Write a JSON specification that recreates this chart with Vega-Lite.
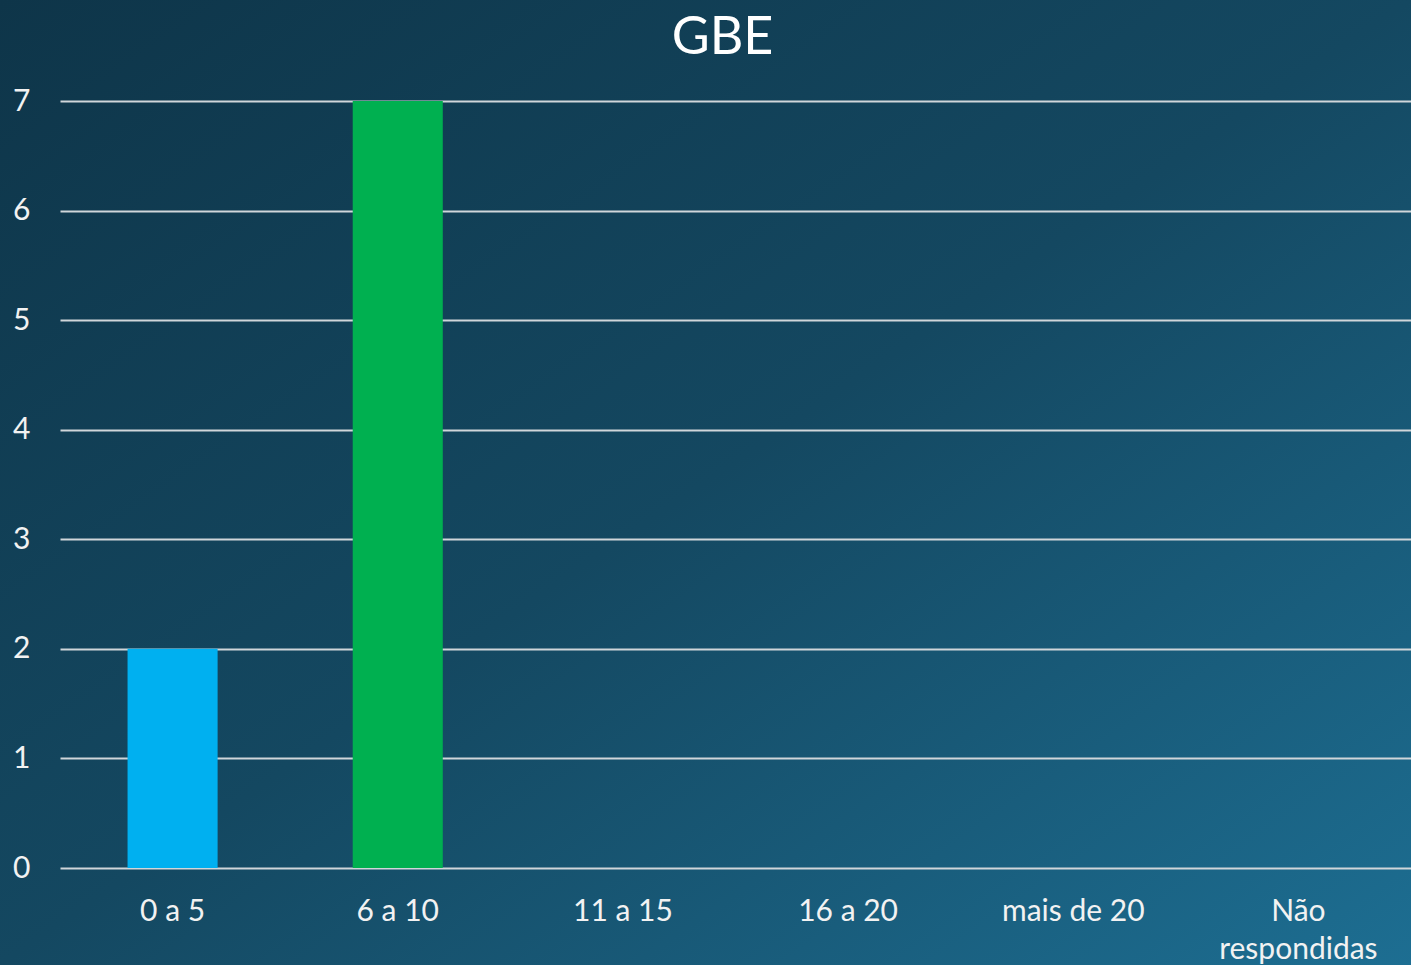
{
  "$schema": "https://vega.github.io/schema/vega-lite/v6.json",
  "width": 1411,
  "height": 965,
  "autosize": {"type": "none"},
  "padding": 0,
  "background": "#154a63",
  "view": {
    "stroke": null,
    "fill": {
      "gradient": "linear",
      "x1": 0, "y1": 0, "x2": 1, "y2": 1,
      "stops": [
        {"offset": 0, "color": "#0e3549"},
        {"offset": 0.5, "color": "#144861"},
        {"offset": 1, "color": "#1d6e92"}
      ]
    }
  },
  "title": {
    "text": "GBE",
    "font": "Lato",
    "fontSize": 52,
    "fontWeight": "normal",
    "color": "#ffffff",
    "anchor": "middle",
    "frame": "group",
    "offset": -65,
    "dx": 17
  },
  "data": {
    "values": [
      {"faixa": "0 a 5", "n": 2},
      {"faixa": "6 a 10", "n": 7},
      {"faixa": "11 a 15", "n": 0},
      {"faixa": "16 a 20", "n": 0},
      {"faixa": "mais de 20", "n": 0},
      {"faixa": "Não respondidas", "n": 0}
    ]
  },
  "mark": {"type": "bar"},
  "encoding": {
    "x": {
      "field": "faixa",
      "type": "nominal",
      "sort": null,
      "scale": {"range": [60, 1411], "paddingInner": 0.6, "paddingOuter": 0.3},
      "axis": {
        "title": null,
        "orient": "bottom",
        "offset": -97,
        "domain": false,
        "ticks": false,
        "grid": false,
        "labelAngle": 0,
        "labelPadding": 28,
        "labelFont": "Lato",
        "labelFontSize": 30,
        "labelColor": "#f2f2f2",
        "labelLineHeight": 38,
        "labelExpr": "datum.label == 'Não respondidas' ? ['Não', 'respondidas'] : datum.label"
      }
    },
    "y": {
      "field": "n",
      "type": "quantitative",
      "scale": {"domain": [0, 7], "range": [868, 101], "nice": false},
      "axis": {
        "title": null,
        "orient": "left",
        "offset": -60,
        "domain": false,
        "ticks": false,
        "values": [0, 1, 2, 3, 4, 5, 6, 7],
        "grid": true,
        "gridColor": "#d0d6da",
        "gridWidth": 2,
        "labelPadding": 30,
        "labelFont": "Lato",
        "labelFontSize": 30,
        "labelColor": "#f2f2f2"
      }
    },
    "color": {
      "field": "faixa",
      "type": "nominal",
      "sort": null,
      "legend": null,
      "scale": {
        "domain": ["0 a 5", "6 a 10", "11 a 15", "16 a 20", "mais de 20", "Não respondidas"],
        "range": ["#00b0f0", "#00b050", "#7f7f7f", "#ffc000", "#ff0000", "#7030a0"]
      }
    }
  }
}
